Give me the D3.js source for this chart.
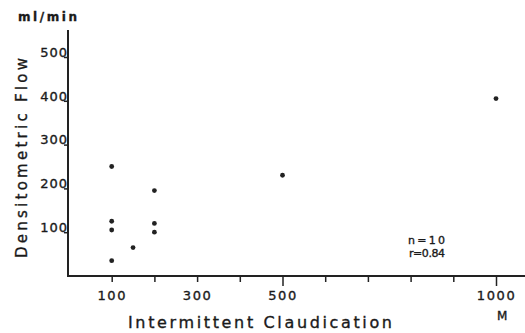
<!DOCTYPE html>
<html><head><meta charset="utf-8">
<script src="https://cdn.jsdelivr.net/npm/d3@7"></script>
<style>
html,body{margin:0;padding:0;background:#fff;}
svg{display:block;}
text{font-family:"DejaVu Sans",sans-serif;fill:#1a1a1a;stroke:#1a1a1a;stroke-width:0.35px;}
</style></head>
<body>
<svg id="c" width="525" height="333"></svg>
<script>
// data
const claudication = [100, 100, 100, 100, 150, 200, 200, 200, 500, 1000]; // metres
const flow =         [250, 125, 105, 35,  65,  195, 120, 100, 230, 405];  // ml/min
const xTicks = [100, 200, 300, 400, 500, 600, 700, 800, 900, 1000];
const xTickLabels = [100, 300, 500, 1000];
const yTicks = [100, 200, 300, 400, 500];
const stats = ["n=10", "r=0.84"];

const svg = d3.select("#c");
const ink = "#222";
const x = d3.scaleLinear().domain([0, 1000]).range([69, 496]);
const y = d3.scaleLinear().domain([0, 500]).range([276, 57]);

// axes lines
svg.append("line").attr("x1", 68).attr("x2", 68).attr("y1", 30).attr("y2", 277)
  .attr("stroke", ink).attr("stroke-width", 2);
svg.append("line").attr("x1", 67).attr("x2", 525).attr("y1", 276).attr("y2", 276)
  .attr("stroke", ink).attr("stroke-width", 2);

// x axis ticks and labels
const xAxis = d3.axisBottom(x).tickValues(xTicks).tickSize(6).tickPadding(9)
  .tickFormat(d => xTickLabels.includes(d) ? d : "");
const gx = svg.append("g").attr("transform", "translate(0,276)").call(xAxis);
gx.select(".domain").remove();
gx.selectAll(".tick line").attr("stroke", ink).attr("stroke-width", 1.5)
  .attr("y2", d => xTickLabels.includes(d) && d >= 500 ? 10 : 6);
gx.selectAll(".tick text").attr("font-size", 13).attr("letter-spacing", 1.6)
  .attr("fill", "#1a1a1a").attr("font-family", "DejaVu Sans, sans-serif");

// y axis ticks and labels
const yAxis = d3.axisLeft(y).tickValues(yTicks).tickSize(4).tickPadding(-4);
const gy = svg.append("g").attr("transform", "translate(68,0)").call(yAxis);
gy.select(".domain").remove();
gy.selectAll(".tick line").attr("stroke", ink).attr("stroke-width", 1.5);
gy.selectAll(".tick text").attr("font-size", 13).attr("letter-spacing", 1)
  .attr("dy", "-0.05em").attr("fill", "#1a1a1a").attr("font-family", "DejaVu Sans, sans-serif");

// points
svg.append("g").selectAll("circle").data(claudication).join("circle")
  .attr("cx", (d) => x(d)).attr("cy", (d, i) => y(flow[i])).attr("r", 2.4).attr("fill", ink);

// labels
svg.append("text").attr("x", 18).attr("y", 21).attr("font-size", 12).attr("font-weight", "bold")
  .attr("textLength", 59).attr("lengthAdjust", "spacing").text("ml/min");
svg.append("text").attr("transform", "translate(27,258) rotate(-90)").attr("font-size", 15)
  .attr("textLength", 200).attr("lengthAdjust", "spacing").text("Densitometric Flow");
svg.append("text").attr("x", 128).attr("y", 328).attr("font-size", 16)
  .attr("textLength", 264).attr("lengthAdjust", "spacing").text("Intermittent Claudication");
svg.append("text").attr("x", 497).attr("y", 320).attr("font-size", 12).text("M");
svg.append("text").attr("x", 408).attr("y", 244).attr("font-size", 11)
  .attr("textLength", 37).attr("lengthAdjust", "spacing").text(stats[0]);
svg.append("text").attr("x", 409).attr("y", 257).attr("font-size", 11)
  .attr("textLength", 36).attr("lengthAdjust", "spacing").text(stats[1]);
</script>
</body></html>
